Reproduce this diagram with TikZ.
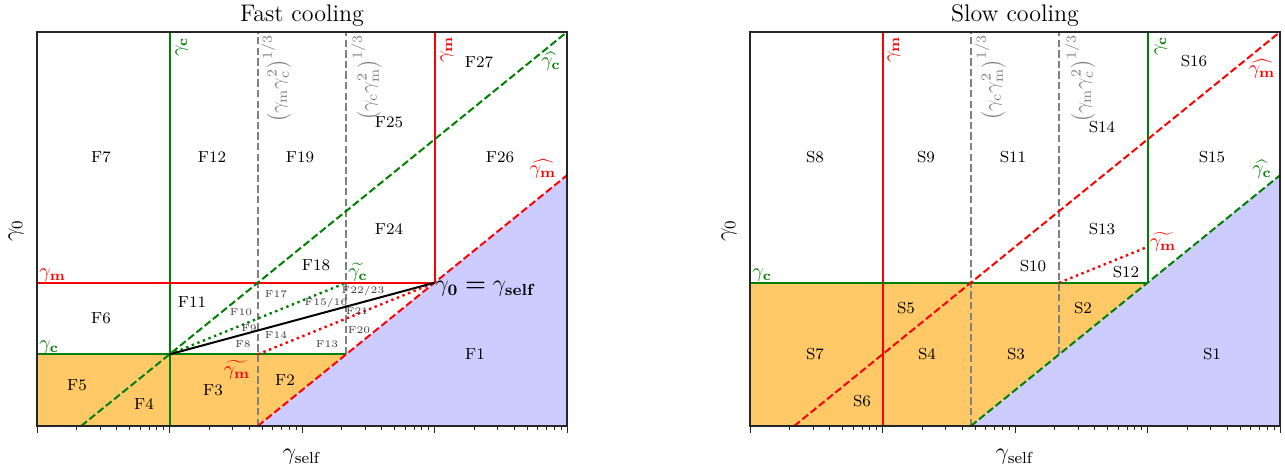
\documentclass[tikz,border=0pt]{standalone}
\usepackage{amsmath}
\definecolor{mgreen}{RGB}{0,128,0}
\definecolor{mred}{RGB}{255,0,0}
\definecolor{mgray}{RGB}{128,128,128}
\definecolor{morange}{RGB}{254,201,102}
\definecolor{mblue}{RGB}{204,204,255}
\tikzset{
  gline/.style={draw=mgreen, line width=1pt},
  rline/.style={draw=mred, line width=1pt},
  gdash/.style={draw=mgreen, line width=1pt, dash pattern=on 3.7pt off 1.6pt},
  rdash/.style={draw=mred, line width=1pt, dash pattern=on 3.7pt off 1.6pt},
  grayd/.style={draw=mgray, line width=1pt, dash pattern=on 3.7pt off 1.6pt},
  gdot/.style={draw=mgreen, line width=1.2pt, dash pattern=on 1.2pt off 1.8pt},
  rdot/.style={draw=mred, line width=1.2pt, dash pattern=on 1.2pt off 1.8pt},
  blk/.style={draw=black, line width=1pt},
  frame/.style={draw=black!85, line width=0.6pt},
  tick/.style={draw=black!85, line width=0.4pt},
  reg/.style={font=\fontsize{8}{9.6}\selectfont, inner sep=0pt},
  sml/.style={font=\fontsize{5}{6}\selectfont, text=black!75, inner sep=0pt},
  glab/.style={font=\fontsize{10}{12}\selectfont, inner sep=0pt},
  rot/.style={rotate=90, anchor=north east},
  ttl/.style={font=\fontsize{12}{14}\selectfont, inner sep=0pt},
}
\begin{document}
\begin{tikzpicture}[x=0.5pt,y=-0.5pt]
\useasboundingbox (0,0) rectangle (1285,470);
\fill[white] (0,0) rectangle (1285,470);

% ---------------- left panel ----------------
\begin{scope}[shift={(37,426)}, x=66.25pt, y=17.909pt]
  \fill[morange] (0,0) -- (0,2) -- (7/3,2) -- (5/3,0) -- cycle;
  \fill[mblue] (5/3,0) -- (4,7) -- (4,0) -- cycle;
  \coordinate (LA) at (1,2);
  \coordinate (LB) at (3,4);
  \draw[grayd] (5/3,0) -- (5/3,11);
  \draw[grayd] (7/3,2) -- (7/3,11);
  \draw[gline] (1,0) -- (1,11);
  \draw[gline] (0,2) -- (7/3,2);
  \draw[rline] (0,4) -- (LB);
  \draw[rline] (LB) -- (3,11);
  \draw[gdash] (1/3,0) -- (4,11);
  \draw[rdash] (5/3,0) -- (4,7);
  \draw[gdot] (LA) -- (7/3,4);
  \draw[rdot] (5/3,2) -- (LB);
  \draw[blk] (LA) -- (LB);
  \draw[frame] (0,0) rectangle (4,11);
  \foreach \k in {0,...,3}{
    \draw[tick] (\k,0) -- ++(0,-3.5pt);
    \foreach \j in {2,...,9}{
      \draw[tick] ({\k+log10(\j)},0) -- ++(0,-2pt);
    }
  }
  \draw[tick] (4,0) -- ++(0,-3.5pt);
\end{scope}

\node[ttl] (T1) at (302,16) {Fast cooling};
\node[ttl] (X1) at (302,457) {$\gamma_{\mathrm{self}}$};
\node[ttl, rotate=90] (Y1) at (16,231) {$\gamma_0$};

\node[reg] (F7) at (101,157) {F7};
\node[reg] (F12) at (212,157) {F12};
\node[reg] (F19) at (300,157) {F19};
\node[reg] (F25) at (389,122) {F25};
\node[reg] (F27) at (479,62) {F27};
\node[reg] (F26) at (500,157) {F26};
\node[reg] (F24) at (389,229) {F24};
\node[reg] (F18) at (316,265) {F18};
\node[reg] (F6) at (101,318) {F6};
\node[reg] (F11) at (192,302) {F11};
\node[reg] (F5) at (77,385) {F5};
\node[reg] (F4) at (144,404) {F4};
\node[reg] (F3) at (213,390) {F3};
\node[reg] (F2) at (285,380) {F2};
\node[reg] (F1) at (475,354) {F1};

\node[sml] (F17) at (276,294) {F17};
\node[sml] (F1516) at (326,303) {F15/16};
\node[sml] (F2223) at (363,291) {F22/23};
\node[sml] (F10) at (241,312) {F10};
\node[sml] (F9) at (249,328) {F9};
\node[sml] (F21) at (357,311) {F21};
\node[sml] (F14) at (276,335) {F14};
\node[sml] (F20) at (359,330) {F20};
\node[sml] (F8) at (243,344) {F8};
\node[sml] (F13) at (327,344) {F13};

\node[glab, text=mred, anchor=south west] (Lgm) at (39,281.5) {$\gamma_{\mathbf{m}}$};
\node[glab, text=mgreen, anchor=south west] (Lgc) at (39,353.5) {$\gamma_{\mathbf{c}}$};
\node[glab, text=mgreen] (Ltc) at (358,272) {$\widetilde{\gamma_{\mathbf{c}}}$};
\node[glab, text=mred] (Ltm) at (237,370) {$\widetilde{\gamma_{\mathbf{m}}}$};
\node[glab, text=mred] (Lhm) at (543,169) {$\widehat{\gamma_{\mathbf{m}}}$};
\node[glab, text=mgreen] (Lhc) at (551,61) {$\widehat{\gamma_{\mathbf{c}}}$};
\node[ttl, anchor=west] (Leq) at (435,289) {$\gamma_{\mathbf{0}}\boldsymbol{=}\gamma_{\mathbf{self}}$};
\node[glab, rot, text=mgreen] (Lvc) at (175,37) {$\gamma_{\mathbf{c}}$};
\node[glab, rot, text=mgray] (Lv1) at (261,34) {$\left(\gamma_{\mathrm{m}}\gamma_{\mathrm{c}}^{2}\right)^{1/3}$};
\node[glab, rot, text=mgray] (Lv2) at (351,34) {$\left(\gamma_{\mathrm{c}}\gamma_{\mathrm{m}}^{2}\right)^{1/3}$};
\node[glab, rot, text=mred] (Lvm) at (440,36) {$\gamma_{\mathbf{m}}$};

% ---------------- right panel ----------------
\begin{scope}[shift={(750,426)}, x=66.25pt, y=17.909pt]
  \fill[morange] (0,0) -- (0,4) -- (3,4) -- (5/3,0) -- cycle;
  \fill[mblue] (5/3,0) -- (4,7) -- (4,0) -- cycle;
  \coordinate (RA) at (3,4);
  \draw[grayd] (5/3,0) -- (5/3,11);
  \draw[grayd] (7/3,2) -- (7/3,11);
  \draw[rline] (1,0) -- (1,11);
  \draw[gline] (0,4) -- (RA);
  \draw[gline] (RA) -- (3,11);
  \draw[rdash] (1/3,0) -- (4,11);
  \draw[gdash] (5/3,0) -- (4,7);
  \draw[rdot] (7/3,4) -- (3,5);
  \draw[frame] (0,0) rectangle (4,11);
  \foreach \k in {0,...,3}{
    \draw[tick] (\k,0) -- ++(0,-3.5pt);
    \foreach \j in {2,...,9}{
      \draw[tick] ({\k+log10(\j)},0) -- ++(0,-2pt);
    }
  }
  \draw[tick] (4,0) -- ++(0,-3.5pt);
\end{scope}

\node[ttl] (T2) at (1015,16) {Slow cooling};
\node[ttl] (X2) at (1015,457) {$\gamma_{\mathrm{self}}$};
\node[ttl, rotate=90] (Y2) at (729,231) {$\gamma_0$};

\node[reg] (S8) at (815,157) {S8};
\node[reg] (S9) at (926,157) {S9};
\node[reg] (S11) at (1013,157) {S11};
\node[reg] (S14) at (1102,127) {S14};
\node[reg] (S15) at (1212,157) {S15};
\node[reg] (S16) at (1194,61) {S16};
\node[reg] (S13) at (1102,229) {S13};
\node[reg] (S10) at (1033,266) {S10};
\node[reg] (S12) at (1126,272) {S12};
\node[reg] (S5) at (906,308) {S5};
\node[reg] (S2) at (1083,308) {S2};
\node[reg] (S7) at (815,354) {S7};
\node[reg] (S4) at (927,354) {S4};
\node[reg] (S3) at (1016,354) {S3};
\node[reg] (S1) at (1212,354) {S1};
\node[reg] (S6) at (862,401) {S6};

\node[glab, text=mgreen, anchor=south west] (Rgc) at (752,281.5) {$\gamma_{\mathbf{c}}$};
\node[glab, text=mred] (Rtm) at (1163,242) {$\widetilde{\gamma_{\mathbf{m}}}$};
\node[glab, text=mred] (Rhm) at (1262,69) {$\widehat{\gamma_{\mathbf{m}}}$};
\node[glab, text=mgreen] (Rhc) at (1262,169) {$\widehat{\gamma_{\mathbf{c}}}$};
\node[glab, rot, text=mred] (Rvm) at (887,36) {$\gamma_{\mathbf{m}}$};
\node[glab, rot, text=mgray] (Rv1) at (975,34) {$\left(\gamma_{\mathrm{c}}\gamma_{\mathrm{m}}^{2}\right)^{1/3}$};
\node[glab, rot, text=mgray] (Rv2) at (1065,34) {$\left(\gamma_{\mathrm{m}}\gamma_{\mathrm{c}}^{2}\right)^{1/3}$};
\node[glab, rot, text=mgreen] (Rvc) at (1154,36) {$\gamma_{\mathbf{c}}$};
\end{tikzpicture}
\end{document}
